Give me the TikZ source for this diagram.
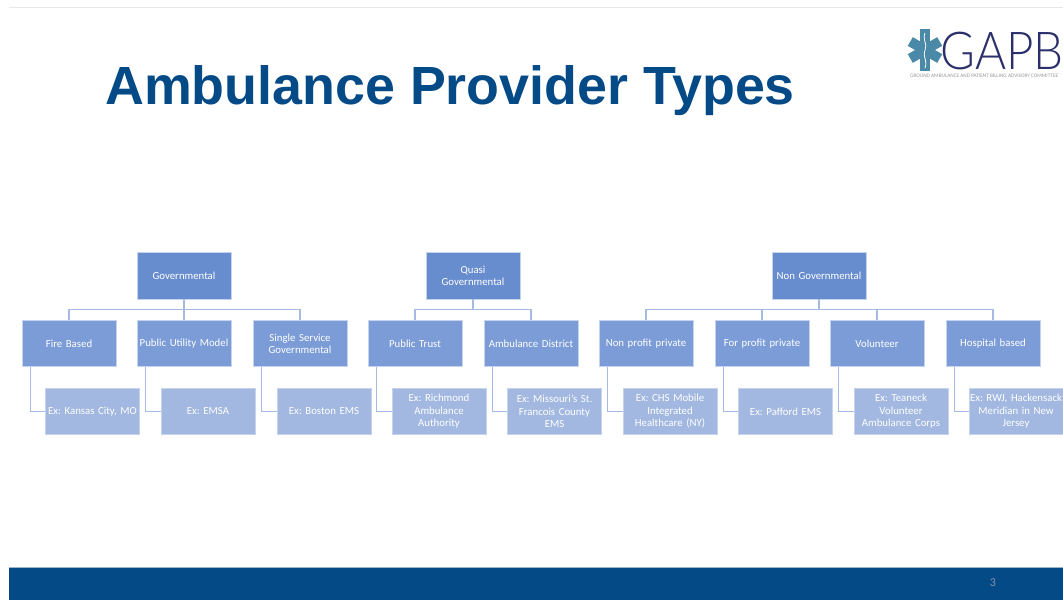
\documentclass[tikz,border=0pt]{standalone}
\usepackage{graphicx}
\usepackage{fontspec}
\setmainfont{Carlito}
\newfontfamily\titlefont{Liberation Sans}
\newfontfamily\logofont{Lato Light}
\definecolor{topfill}{HTML}{688DCF}
\definecolor{midfill}{HTML}{7C9CD7}
\definecolor{leaffill}{HTML}{A2B8E0}
\definecolor{edgeline}{HTML}{C5D3EC}
\definecolor{linkline}{HTML}{A6BBE3}
\definecolor{navy}{HTML}{044A87}
\definecolor{logoblue}{HTML}{4A8AA8}
\definecolor{logonavy}{HTML}{2B2F6B}
\definecolor{pagegray}{HTML}{8494A8}
\tikzset{
  boxbase/.style={draw=edgeline,line width=0.8pt,minimum width=94pt,minimum height=46.5pt,inner sep=0pt,text=white,align=center,font=\frenchspacing\fontsize{10.8}{12.4}\selectfont,text width=92pt},
  topbox/.style={boxbase,fill=topfill},
  midbox/.style={boxbase,fill=midfill},
  leafbox/.style={boxbase,fill=leaffill,text=white},
  link/.style={draw=linkline,line width=1.4pt},
}
\begin{document}
\begin{tikzpicture}[x=1pt,y=-1pt]
\useasboundingbox (0,0) rectangle (1063,600);
\clip (0,0) rectangle (1063,600);
\fill[white] (0,0) rectangle (1063,600);
\draw[black!9,line width=0.8pt] (9,7.5) -- (1063,7.5);
\fill[navy] (9,567) rectangle (1063,600);
\draw[white!60!navy,line width=0.6pt] (9,566.8) -- (1063,566.8);
\node[text=pagegray,font=\fontsize{12}{14}\selectfont] (pagenum) at (993,582.5) {3};
\node[anchor=base west,text=navy,font=\titlefont\bfseries\fontsize{53.8}{60}\selectfont,inner sep=0pt] (title) at (105,104) {Ambulance Provider Types};
% logo
\foreach \a in {60,120}{\fill[logoblue,rotate around={\a:(925,50)}] (920,33) rectangle (930,67);}
\fill[logoblue] (920,29) rectangle (930,71);
\draw[white,line width=0.8pt] (925,33) .. controls (922,40) and (928,44) .. (925,50) .. controls (922,56) and (928,60) .. (925,68);
\node[anchor=base west,inner sep=0pt,text=logonavy,font=\logofont\fontsize{47.5}{50}\selectfont] (logotext) at (940,69) {\scalebox{1}[1.1]{GAPB}};
\node[anchor=base west,inner sep=0pt,text=black!40,font=\fontsize{5.3}{6}\selectfont] (logosub) at (910,77) {GROUND AMBULANCE AND PATIENT BILLING ADVISORY COMMITTEE};
% Top boxes
\node[topbox] (gov) at (184,275.8) {Governmental};
\node[topbox] (quasi) at (473,275.8) {Quasi\\Governmental};
\node[topbox] (nongov) at (819,275.8) {Non Governmental};
% Middle boxes
\node[midbox] (fire) at (69,343.5) {Fire Based};
\node[midbox] (util) at (184,343.5) {Public Utility Model};
\node[midbox] (single) at (300,343.5) {Single Service\\Governmental};
\node[midbox] (trust) at (415,343.5) {Public Trust};
\node[midbox] (district) at (531,343.5) {Ambulance District};
\node[midbox] (nonprofit) at (646,343.5) {Non profit private};
\node[midbox] (forprofit) at (762,343.5) {For profit private};
\node[midbox] (volunteer) at (877,343.5) {Volunteer};
\node[midbox] (hospital) at (993,343.5) {Hospital based};
% Leaf boxes
\node[leafbox] (lfire) at (92.5,411.3) {Ex: Kansas City, MO};
\node[leafbox] (lutil) at (208,411.3) {Ex: EMSA};
\node[leafbox] (lsingle) at (324,411.3) {Ex: Boston EMS};
\node[leafbox] (ltrust) at (439,411.3) {Ex: Richmond\\Ambulance\\Authority};
\node[leafbox] (ldistrict) at (554.5,411.3) {Ex: Missouri’s St.\\Francois County\\EMS};
\node[leafbox] (lnonprofit) at (670,411.3) {Ex: CHS Mobile\\Integrated\\Healthcare (NY)};
\node[leafbox] (lforprofit) at (785.5,411.3) {Ex: Pafford EMS};
\node[leafbox] (lvolunteer) at (901,411.3) {Ex: Teaneck\\Volunteer\\Ambulance Corps};
\node[leafbox] (lhospital) at (1016,411.3) {Ex: RWJ, Hackensack\\Meridian in New\\Jersey};
% Tree links
\foreach \p/\c in {gov/fire,gov/util,gov/single,quasi/trust,quasi/district,nongov/nonprofit,nongov/forprofit,nongov/volunteer,nongov/hospital}{
  \draw[link] (\p.south) -- ++(0,10) -| (\c.north);
}
\foreach \c/\l in {fire/lfire,util/lutil,single/lsingle,trust/ltrust,district/ldistrict,nonprofit/lnonprofit,forprofit/lforprofit,volunteer/lvolunteer,hospital/lhospital}{
  \draw[link] (\c.south west) ++(9,0) |- (\l.west);
}
\end{tikzpicture}
\end{document}
